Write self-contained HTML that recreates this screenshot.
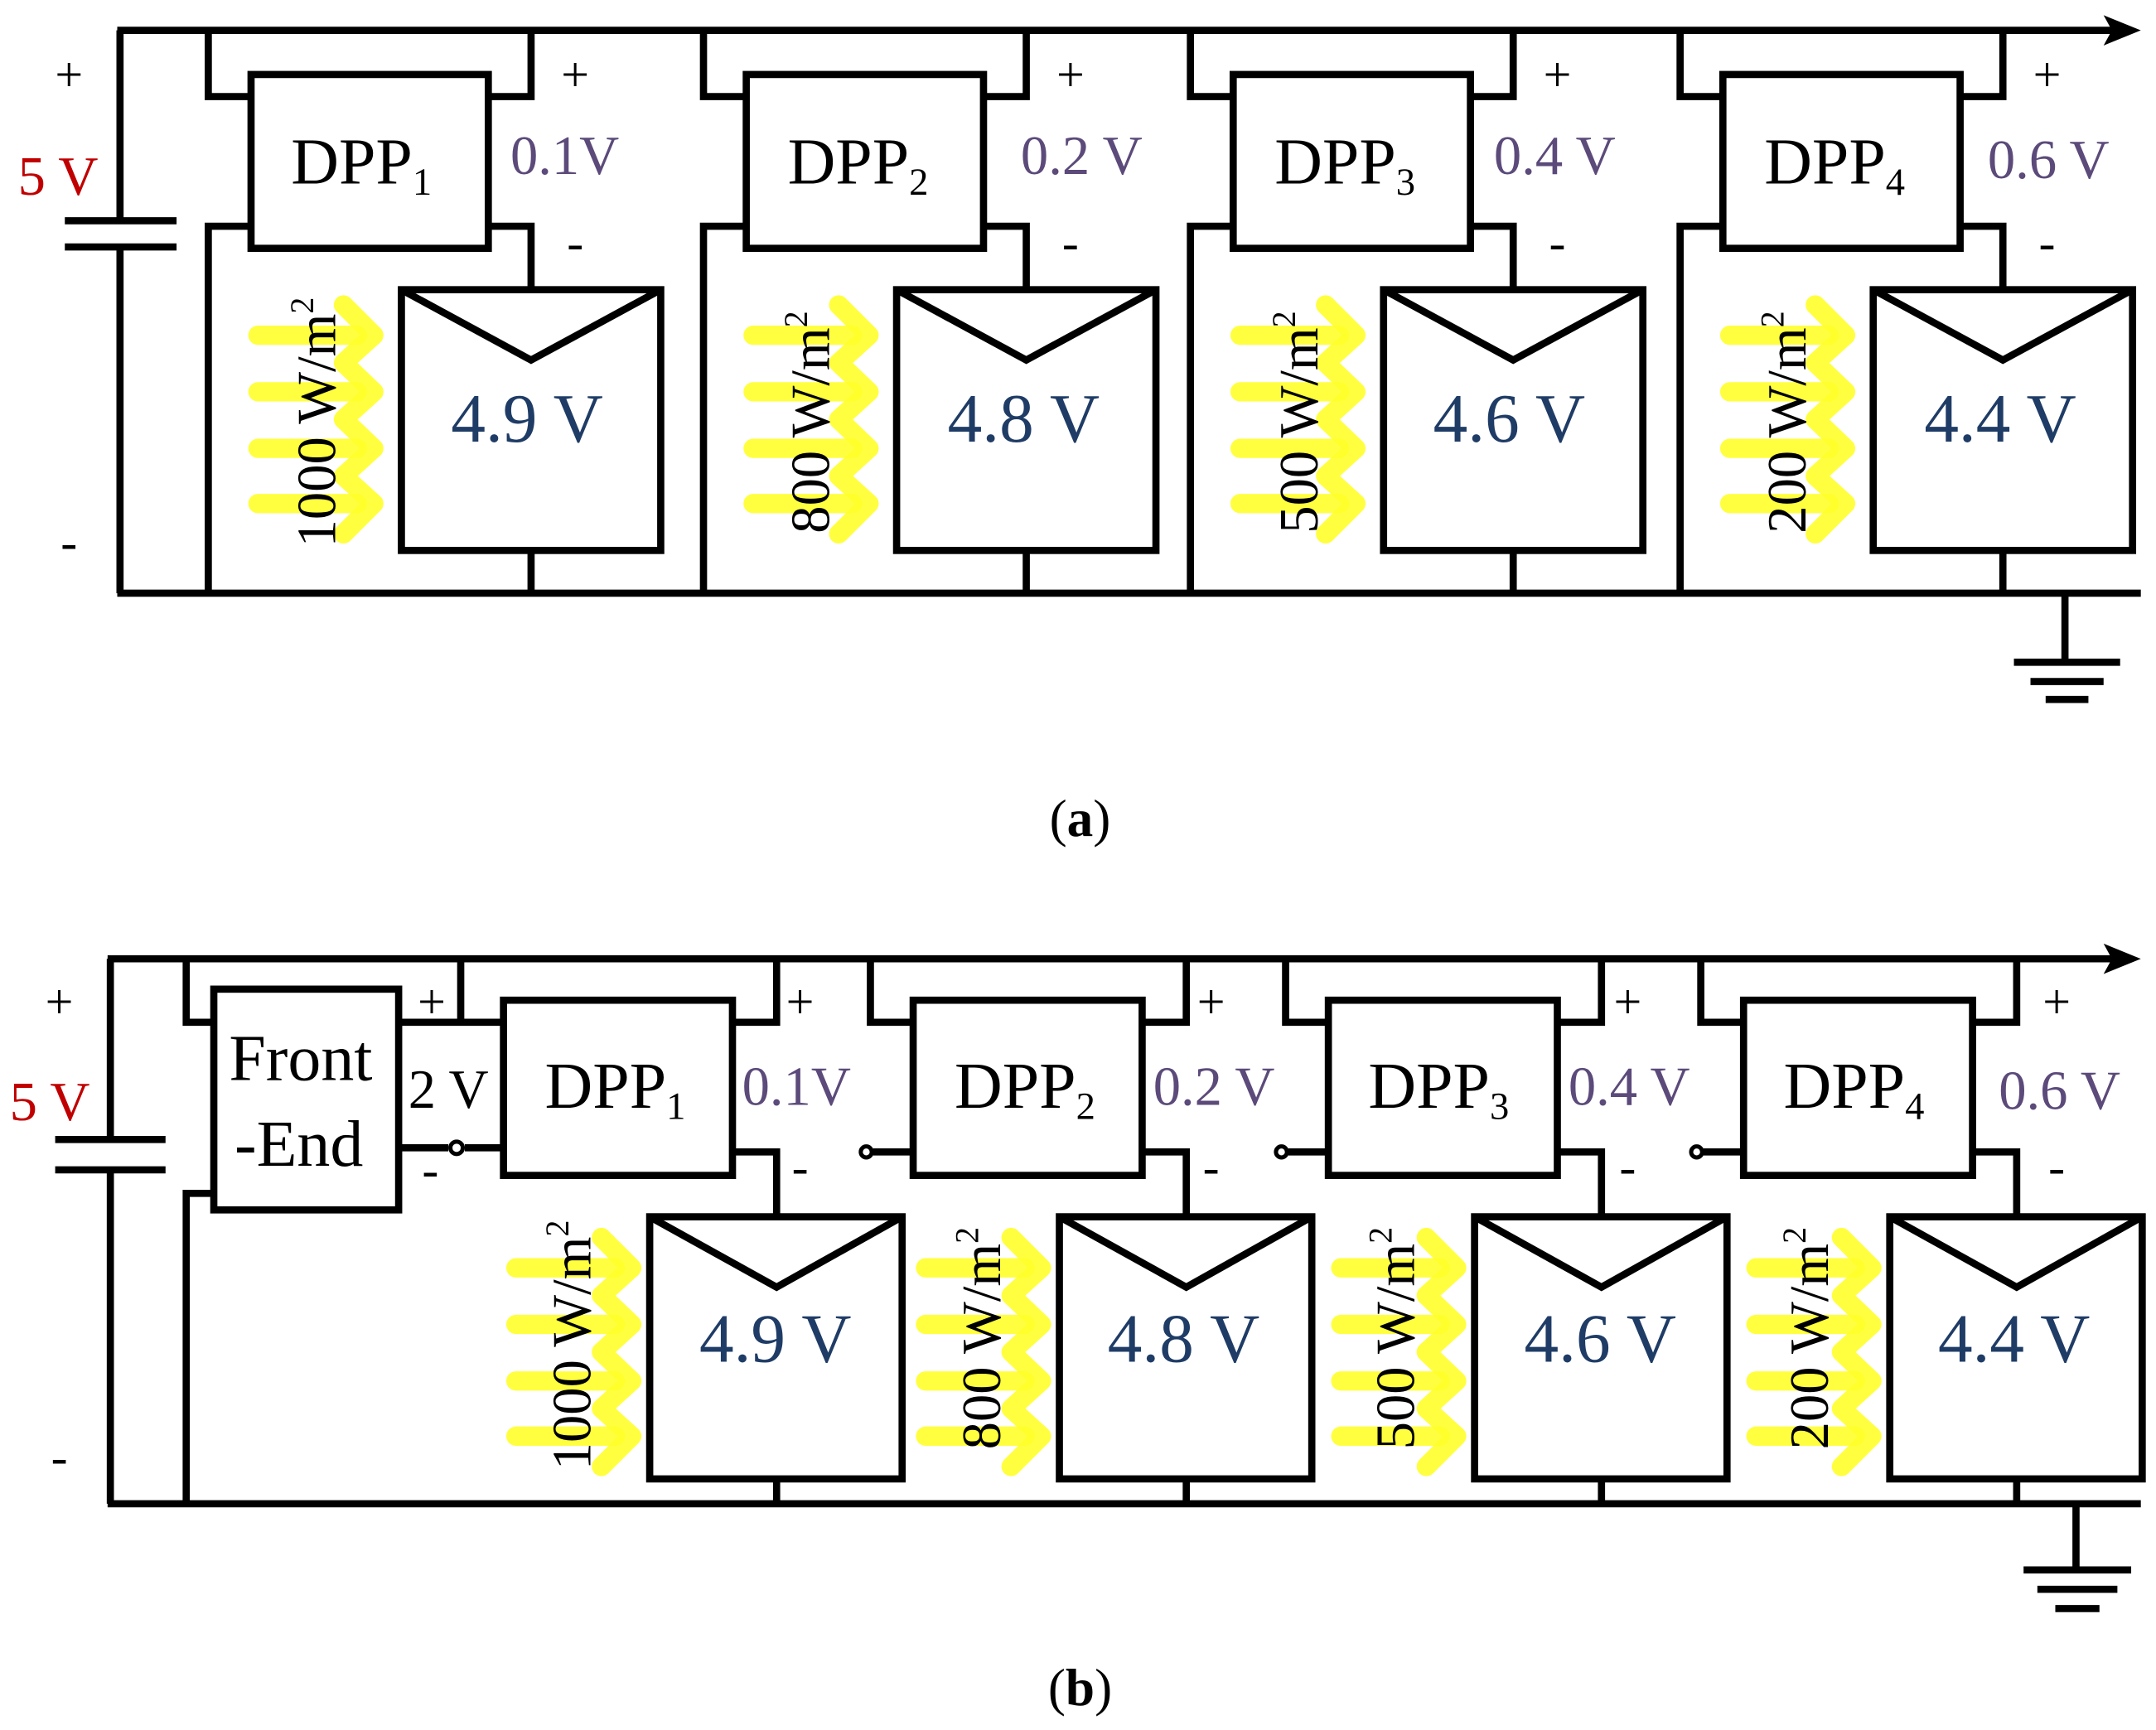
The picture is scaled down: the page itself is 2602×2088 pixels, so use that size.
<!DOCTYPE html>
<html><head><meta charset="utf-8"><style>
html,body{margin:0;padding:0;background:#fff;}
svg{display:block;}
text{font-family:"Liberation Serif",serif;}
</style></head><body>
<svg width="2602" height="2088" viewBox="0 0 1563 1254" preserveAspectRatio="none" xmlns="http://www.w3.org/2000/svg">
<defs>
<g id="ya" fill="none" stroke="#ffff2a" stroke-opacity="0.9" stroke-width="14" stroke-linecap="round" stroke-linejoin="round">
<line x1="0" y1="0" x2="72" y2="0"/><line x1="0" y1="41" x2="72" y2="41"/><line x1="0" y1="82" x2="72" y2="82"/><line x1="0" y1="122" x2="72" y2="122"/>
<polyline points="62,-22 84,0 62,20 84,41 62,61 84,82 62,102 84,122 62,144"/>
</g>
<g id="pa" fill="none" stroke="#000" stroke-width="5.2" stroke-linejoin="miter">
<polyline points="151,22 151,70 182,70"/>
<polyline points="182,164 151,164 151,430"/>
<rect x="182" y="54" width="172" height="126"/>
<polyline points="385,22 385,70 354,70"/>
<polyline points="354,164 385,164 385,210"/>
<rect x="291" y="210" width="188" height="189"/>
<polyline points="291,210 385,261 479,210"/>
<line x1="385" y1="399" x2="385" y2="430"/>
</g>
<g id="pb" fill="none" stroke="#000" stroke-width="5.2">
<rect x="365" y="725" width="166" height="127"/>
<polyline points="563,695 563,741 531,741"/>
<polyline points="531,835 563,835 563,882"/>
<rect x="471" y="882" width="183" height="190"/>
<polyline points="471,882 563,933 654,882"/>
<line x1="563" y1="1072" x2="563" y2="1090"/>
</g>
<g id="pbl" fill="none" stroke="#000" stroke-width="5.2">
<polyline points="334,695 334,741 365,741"/>
<line x1="336" y1="835" x2="365" y2="835"/>
<circle cx="331" cy="835" r="4" stroke-width="3" fill="#fff"/>
</g>
</defs>

<!-- ===== (a) ===== -->
<g fill="none" stroke="#000" stroke-width="5.2">
<line x1="85" y1="22" x2="1535" y2="22"/>
<line x1="87" y1="22" x2="87" y2="160"/>
<line x1="87" y1="179" x2="87" y2="430"/>
<line x1="47" y1="160" x2="128" y2="160"/>
<line x1="47" y1="179" x2="128" y2="179"/>
<line x1="85" y1="430" x2="1552" y2="430"/>
<line x1="1497" y1="430" x2="1497" y2="480"/>
<line x1="1460" y1="480" x2="1537" y2="480"/>
<line x1="1472" y1="494" x2="1525" y2="494"/>
<line x1="1483" y1="507" x2="1514" y2="507"/>
</g>
<polygon points="1525,11 1552,22 1525,33 1531,22" fill="#000"/>
<use href="#pa"/>
<use href="#pa" transform="translate(359,0)"/>
<use href="#pa" transform="translate(712,0)"/>
<use href="#pa" transform="translate(1067,0)"/>
<use href="#ya" transform="translate(187,243)"/>
<use href="#ya" transform="translate(546,243)"/>
<use href="#ya" transform="translate(899,243)"/>
<use href="#ya" transform="translate(1254,243)"/>

<g font-size="36" fill="#000" text-anchor="middle">
<text x="50" y="66">+</text><text x="50" y="405">-</text>
<text x="417" y="66">+</text><text x="776" y="66">+</text><text x="1129" y="66">+</text><text x="1484" y="66">+</text>
<text x="417" y="188">-</text><text x="776" y="188">-</text><text x="1129" y="188">-</text><text x="1484" y="188">-</text>
</g>
<text x="13" y="141" font-size="40" fill="#c00000">5 V</text>
<g font-size="48" fill="#000">
<text x="211" y="133">DPP<tspan font-size="28" dy="8">1</tspan></text>
<text x="571" y="133">DPP<tspan font-size="28" dy="8">2</tspan></text>
<text x="924" y="133">DPP<tspan font-size="28" dy="8">3</tspan></text>
<text x="1279" y="133">DPP<tspan font-size="28" dy="8">4</tspan></text>
</g>
<g font-size="40" fill="#5b4a7a">
<text x="370" y="126">0.1V</text><text x="740" y="126">0.2 V</text><text x="1083" y="126">0.4 V</text><text x="1441" y="129">0.6 V</text>
</g>
<g font-size="50" fill="#1f3c66">
<text x="327" y="320">4.9 V</text><text x="687" y="320">4.8 V</text><text x="1039" y="320">4.6 V</text><text x="1395" y="320">4.4 V</text>
</g>
<g font-size="40" fill="#000" text-anchor="middle">
<text transform="translate(243,306) rotate(-90)">1000 W/m<tspan font-size="24" dy="-16">2</tspan></text>
<text transform="translate(601,306) rotate(-90)">800 W/m<tspan font-size="24" dy="-16">2</tspan></text>
<text transform="translate(955,306) rotate(-90)">500 W/m<tspan font-size="24" dy="-16">2</tspan></text>
<text transform="translate(1309,306) rotate(-90)">200 W/m<tspan font-size="24" dy="-16">2</tspan></text>
</g>
<text x="783" y="606" font-size="38" text-anchor="middle" fill="#000">(<tspan font-weight="bold">a</tspan>)</text>

<!-- ===== (b) ===== -->
<g fill="none" stroke="#000" stroke-width="5.2">
<line x1="78" y1="695" x2="1535" y2="695"/>
<line x1="80" y1="695" x2="80" y2="826"/>
<line x1="80" y1="848" x2="80" y2="1090"/>
<line x1="40" y1="826" x2="120" y2="826"/>
<line x1="40" y1="848" x2="120" y2="848"/>
<line x1="78" y1="1090" x2="1552" y2="1090"/>
<polyline points="135,695 135,741 155,741"/>
<polyline points="155,865 135,865 135,1090"/>
<rect x="155" y="717" width="134" height="160"/>
<line x1="289" y1="741" x2="365" y2="741"/>
<line x1="334" y1="695" x2="334" y2="741"/>
<line x1="289" y1="832" x2="325" y2="832"/>
<line x1="337" y1="832" x2="365" y2="832"/>
<line x1="1505" y1="1090" x2="1505" y2="1138"/>
<line x1="1467" y1="1138" x2="1545" y2="1138"/>
<line x1="1477" y1="1152" x2="1535" y2="1152"/>
<line x1="1490" y1="1166" x2="1522" y2="1166"/>
</g>
<circle cx="331" cy="832" r="4.5" fill="#fff" stroke="#000" stroke-width="3"/>
<polygon points="1525,684 1552,695 1525,706 1531,695" fill="#000"/>
<use href="#pb"/>
<use href="#pb" transform="translate(297,0)"/>
<use href="#pb" transform="translate(598,0)"/>
<use href="#pb" transform="translate(899,0)"/>
<use href="#pbl" transform="translate(297,0)"/>
<use href="#pbl" transform="translate(598,0)"/>
<use href="#pbl" transform="translate(899,0)"/>
<use href="#ya" transform="translate(374,919)"/>
<use href="#ya" transform="translate(671,919)"/>
<use href="#ya" transform="translate(972,919)"/>
<use href="#ya" transform="translate(1273,919)"/>

<g font-size="36" fill="#000" text-anchor="middle">
<text x="43" y="738">+</text><text x="43" y="1068">-</text>
<text x="313" y="738">+</text><text x="312" y="860">-</text>
<text x="580" y="738">+</text><text x="878" y="738">+</text><text x="1180" y="738">+</text><text x="1491" y="738">+</text>
<text x="580" y="858">-</text><text x="878" y="858">-</text><text x="1180" y="858">-</text><text x="1491" y="858">-</text>
</g>
<text x="7" y="812" font-size="40" fill="#c00000">5 V</text>
<g font-size="48" fill="#000">
<text x="166" y="783">Front</text>
<text x="170" y="845">-End</text>
<text x="296" y="803" font-size="40">2 V</text>
<text x="395" y="803">DPP<tspan font-size="28" dy="8">1</tspan></text>
<text x="692" y="803">DPP<tspan font-size="28" dy="8">2</tspan></text>
<text x="992" y="803">DPP<tspan font-size="28" dy="8">3</tspan></text>
<text x="1293" y="803">DPP<tspan font-size="28" dy="8">4</tspan></text>
</g>
<g font-size="40" fill="#5b4a7a">
<text x="538" y="801">0.1V</text><text x="836" y="801">0.2 V</text><text x="1137" y="801">0.4 V</text><text x="1449" y="804">0.6 V</text>
</g>
<g font-size="50" fill="#1f3c66">
<text x="507" y="987">4.9 V</text><text x="803" y="987">4.8 V</text><text x="1105" y="987">4.6 V</text><text x="1405" y="987">4.4 V</text>
</g>
<g font-size="40" fill="#000" text-anchor="middle">
<text transform="translate(428,975) rotate(-90)">1000 W/m<tspan font-size="24" dy="-16">2</tspan></text>
<text transform="translate(725,970) rotate(-90)">800 W/m<tspan font-size="24" dy="-16">2</tspan></text>
<text transform="translate(1025,970) rotate(-90)">500 W/m<tspan font-size="24" dy="-16">2</tspan></text>
<text transform="translate(1325,970) rotate(-90)">200 W/m<tspan font-size="24" dy="-16">2</tspan></text>
</g>
<text x="783" y="1236" font-size="38" text-anchor="middle" fill="#000">(<tspan font-weight="bold">b</tspan>)</text>
</svg>
</body></html>
